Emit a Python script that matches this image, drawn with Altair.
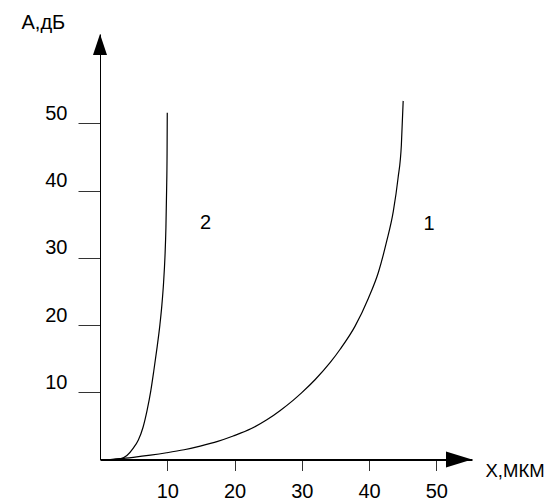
import altair as alt
import pandas as pd

# Curve 1
c1_x = [1.5, 3, 4.95, 7.5, 9.9, 12.5, 14.9, 17.5, 19.8, 22.5, 24.8, 26.8, 28.7, 30, 32,
        34.2, 35.7, 37.9, 39.9, 41.4, 42.6, 43.6, 44.3, 44.8, 45.07]
c1_y = [0, 0.12, 0.33, 0.65, 1.0, 1.45, 2.0, 2.7, 3.5, 4.6, 5.9, 7.3, 8.8, 9.95, 11.9,
        14.4, 16.4, 19.8, 24.0, 27.9, 32.4, 36.9, 41.8, 46.8, 53.35]
# Curve 2
c2_x = [0.8, 2.0, 3.0, 4.0, 4.95, 5.7, 6.4, 7.0, 7.55, 8.0, 8.5, 8.9, 9.2, 9.45, 9.65,
        9.8, 9.9, 9.97, 10.0]
c2_y = [0, 0, 0.1, 0.6, 1.7, 2.9, 4.8, 7.3, 10.2, 13.2, 16.8, 20.0, 23.0, 26.3, 30.0,
        34.5, 40.0, 45.5, 51.6]

tick_vals = [10, 20, 30, 40, 50]
curve_labels = ["1", "2"]
label_x = [48.9, 15.7]
label_y = [35.0, 35.2]

X_MAX = 55.3
Y_MAX = 63.3
FONT = "Liberation Sans"
FS = 20

rows = [{"x": a, "y": b, "s": "1"} for a, b in zip(c1_x, c1_y)] + \
       [{"x": a, "y": b, "s": "2"} for a, b in zip(c2_x, c2_y)]
df = pd.DataFrame(rows)
lab_df = pd.DataFrame({"x": label_x, "y": label_y, "t": curve_labels})
arr_up = pd.DataFrame({"x": [0], "y": [Y_MAX]})
arr_right = pd.DataFrame({"x": [X_MAX], "y": [0]})

xs = alt.Scale(domain=[0, X_MAX], nice=False, zero=False)
ys = alt.Scale(domain=[0, Y_MAX], nice=False, zero=False)

x_axis = alt.Axis(values=tick_vals, grid=False, domainColor="black", domainWidth=2,
                  tickColor="#333", tickSize=11, tickWidth=1,
                  labelFont=FONT, labelFontSize=FS, labelColor="black", labelPadding=11,
                  labelOverlap=False, labelFlush=False,
                  title="X,МКМ", titleFont=FONT, titleFontSize=18.5, titleFontWeight="normal",
                  titleColor="black", titleAngle=0, titleX=385, titleY=11,
                  titleAlign="left", titleBaseline="middle")
y_axis = alt.Axis(values=tick_vals, grid=False, domainColor="black", domainWidth=1,
                  tickColor="#333", tickSize=22, tickWidth=1,
                  labelFont=FONT, labelFontSize=FS, labelColor="black", labelPadding=11,
                  labelOffset=-10, labelOverlap=False, labelFlush=False,
                  title="A,дБ", titleFont=FONT, titleFontSize=FS, titleFontWeight="normal",
                  titleColor="black", titleAngle=0, titleX=-79, titleY=-12,
                  titleAlign="left", titleBaseline="middle")

lines = alt.Chart(df).mark_line(color="black", strokeWidth=1.2, interpolate="monotone").encode(
    x=alt.X("x:Q", scale=xs, axis=x_axis),
    y=alt.Y("y:Q", scale=ys, axis=y_axis),
    detail="s:N",
)

labels = alt.Chart(lab_df).mark_text(font=FONT, fontSize=FS, color="black").encode(
    x=alt.X("x:Q", scale=xs), y=alt.Y("y:Q", scale=ys), text="t:N"
)

up = alt.Chart(arr_up).mark_point(shape="M0,0L-0.667,2L0.667,2Z", filled=True, size=441,
                                  color="black", opacity=1, strokeWidth=0).encode(
    x=alt.X("x:Q", scale=xs), y=alt.Y("y:Q", scale=ys))
right = alt.Chart(arr_right).mark_point(shape="M0,0L-2,-0.615L-2,0.615Z", filled=True, size=676,
                                        color="black", opacity=1, strokeWidth=0).encode(
    x=alt.X("x:Q", scale=xs), y=alt.Y("y:Q", scale=ys))

chart = alt.layer(lines, labels, up, right).properties(
    width=372, height=425.5,
    autosize=alt.AutoSizeParams(type="none"),
    padding={"left": 92, "top": 26, "right": 75, "bottom": 43},
).configure_view(stroke=None)

chart.save("out.html", embed_options={"renderer": "svg", "actions": False})
